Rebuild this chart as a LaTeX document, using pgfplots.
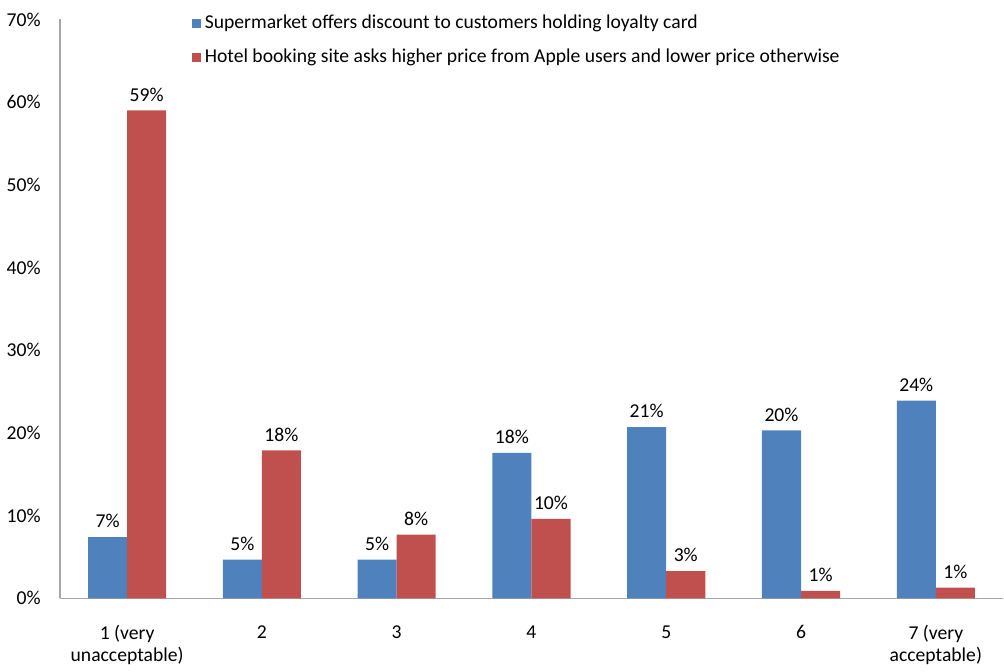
\documentclass[border=0pt]{standalone}
\usepackage{pgfplots}
\pgfplotsset{compat=1.18}
\usepackage{fontspec}
\setmainfont{Carlito}
\definecolor{xlblue}{HTML}{4F81BD}
\definecolor{xlred}{HTML}{C0504D}

\begin{document}
\begin{tikzpicture}
\begin{axis}[
  scale only axis, width=471pt, height=289pt,
  ybar=0pt, bar width=19.5pt,
  xmin=0.5, xmax=7.5, ymin=0, ymax=70,
  xtick={1,...,7},
  xticklabels={{1 (very\\unacceptable)},2,3,4,5,6,{7 (very\\acceptable)}},
  xticklabel style={align=center, yshift=-10pt},
  ytick={0,10,...,70},
  yticklabel={\pgfmathprintnumber{\tick}\%},
  yticklabel style={xshift=-6pt},
  axis x line*=bottom, axis y line*=left,
  axis line style={black!35, line width=0.8pt},
  major tick length=0pt,
  /pgf/number format/assume math mode=true,
  tick label style={font=\fontsize{9.8}{11}\selectfont, text=black},
  nodes near coords={\pgfmathprintnumber[fixed,precision=0]{\pgfplotspointmeta}\%},
  every node near coord/.append style={font=\fontsize{9.8}{11}\selectfont, text=black, yshift=1pt},
  legend style={at={(rel axis cs:0.133,1.022)}, anchor=north west, draw=none, fill=none,
    font=\fontsize{9.8}{11}\selectfont, row sep=4.5pt, cells={anchor=west}},
  legend image code/.code={\fill[#1] (0pt,-2.3pt) rectangle (4.6pt,2.3pt);},
]
\addplot[fill=xlblue, draw=none] coordinates
  {(1,7.4) (2,4.7) (3,4.7) (4,17.6) (5,20.7) (6,20.3) (7,23.9)};
\addlegendentry{Supermarket offers discount to customers holding loyalty card}
\addplot[fill=xlred, draw=none] coordinates
  {(1,59.0) (2,17.9) (3,7.7) (4,9.6) (5,3.3) (6,0.9) (7,1.3)};
\addlegendentry{Hotel booking site asks higher price from Apple users and lower price otherwise}
\end{axis}
\path ([yshift=3pt]current bounding box.north);
\end{tikzpicture}
\end{document}
